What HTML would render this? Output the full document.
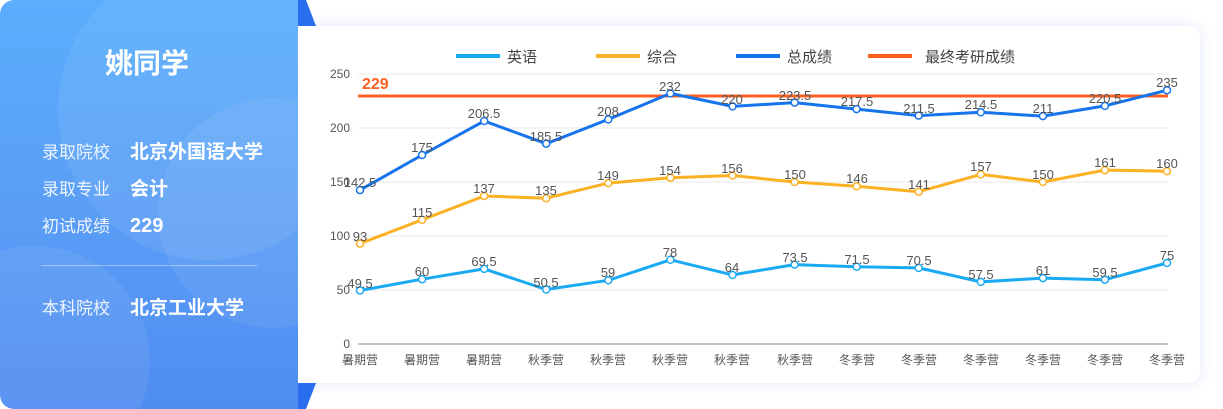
<!DOCTYPE html><html><head><meta charset="utf-8"><style>
html,body{margin:0;width:1223px;height:409px;overflow:hidden}
body{background:#fff;position:relative;font-family:"Liberation Sans","Noto Sans CJK SC",sans-serif}
.left{position:absolute;left:0;top:0;width:298px;height:409px;border-radius:14px 0 0 14px;background:linear-gradient(180deg,#5aaefc 0%,#5a9ef6 50%,#4f8cf1 100%);overflow:hidden}
.c{position:absolute;border-radius:50%;background:rgba(255,255,255,0.07)}
.t{position:absolute;color:#fff;white-space:nowrap;line-height:1}
.card{position:absolute;left:298px;top:26px;width:902px;height:357px;background:#fff;border-radius:0 12px 12px 0;box-shadow:0 0 14px rgba(90,120,230,0.18)}
</style></head><body>
<div class="card"></div>
<svg style="position:absolute;left:0;top:0" width="1223" height="409">
<polygon points="298,0 306,0 316,26 298,26" fill="#2a6ef0"/>
<polygon points="298,383 316,383 306,409 298,409" fill="#2a6ef0"/>
</svg>
<div class="left">
<div class="c" style="left:58px;top:-40px;width:300px;height:300px"></div>
<div class="c" style="left:158px;top:98px;width:230px;height:230px"></div>
<div class="c" style="left:-80px;top:246px;width:230px;height:230px"></div>
<div class="t" style="left:105px;top:50px;font-size:28px;font-weight:bold">姚同学</div>
<div class="t" style="left:42px;top:144px;font-size:17px;opacity:.9">录取院校</div>
<div class="t" style="left:130px;top:143px;font-size:19px;font-weight:bold">北京外国语大学</div>
<div class="t" style="left:42px;top:181px;font-size:17px;opacity:.9">录取专业</div>
<div class="t" style="left:130px;top:180px;font-size:19px;font-weight:bold">会计</div>
<div class="t" style="left:42px;top:218px;font-size:17px;opacity:.9">初试成绩</div>
<div class="t" style="left:130px;top:216px;font-size:20px;font-weight:bold">229</div>
<div style="position:absolute;left:41px;top:265px;width:216px;height:1px;background:rgba(255,255,255,.4)"></div>
<div class="t" style="left:42px;top:300px;font-size:17px;opacity:.9">本科院校</div>
<div class="t" style="left:130px;top:299px;font-size:19px;font-weight:bold">北京工业大学</div>
</div>
<svg style="position:absolute;left:0;top:0" width="1223" height="409" font-family="Liberation Sans, Noto Sans CJK SC, sans-serif">
<g stroke="#e8e8e8" stroke-width="1">
<line x1="358" x2="1168" y1="74" y2="74"/><line x1="358" x2="1168" y1="128" y2="128"/><line x1="358" x2="1168" y1="182" y2="182"/><line x1="358" x2="1168" y1="236" y2="236"/><line x1="358" x2="1168" y1="290" y2="290"/>
</g>
<line x1="358" x2="1168" y1="344" y2="344" stroke="#888"/>
<g font-size="12" fill="#555" text-anchor="end">
<text x="350" y="78">250</text><text x="350" y="132">200</text><text x="350" y="186">150</text><text x="350" y="240">100</text><text x="350" y="294">50</text><text x="350" y="348">0</text>
</g>
<g font-size="12" fill="#555" text-anchor="middle">
<text x="360" y="364">暑期营</text><text x="422" y="364">暑期营</text><text x="484" y="364">暑期营</text><text x="546" y="364">秋季营</text><text x="608" y="364">秋季营</text><text x="670" y="364">秋季营</text><text x="732" y="364">秋季营</text><text x="795" y="364">秋季营</text><text x="857" y="364">冬季营</text><text x="919" y="364">冬季营</text><text x="981" y="364">冬季营</text><text x="1043" y="364">冬季营</text><text x="1105" y="364">冬季营</text><text x="1167" y="364">冬季营</text>
</g>
<g font-size="15" fill="#444">
<line x1="456" x2="500" y1="56" y2="56" stroke="#1aaaf4" stroke-width="4"/><text x="507" y="62">英语</text>
<line x1="596" x2="640" y1="56" y2="56" stroke="#fbb123" stroke-width="4"/><text x="647" y="62">综合</text>
<line x1="736" x2="780" y1="56" y2="56" stroke="#1674ec" stroke-width="4"/><text x="787" y="62">总成绩</text>
<line x1="868" x2="912" y1="56" y2="56" stroke="#fe6022" stroke-width="4"/><text x="925" y="62">最终考研成绩</text>
</g>
<line x1="358" x2="1168" y1="96" y2="96" stroke="#fe6022" stroke-width="3"/>
<text x="362" y="89" font-size="16" font-weight="bold" fill="#fe6022">229</text>
<g fill="none" stroke-width="3" stroke-linejoin="round">
<polyline stroke="#1aaaf4" points="360,290.5 422.1,279.2 484.2,268.9 546.2,289.5 608.3,280.3 670.4,259.8 732.5,274.9 794.6,264.6 856.6,266.8 918.7,267.9 980.8,281.9 1042.9,278.1 1104.9,279.7 1167,263"/>
<polyline stroke="#fbb123" points="360,243.6 422.1,219.8 484.2,196 546.2,198.2 608.3,183.1 670.4,177.7 732.5,175.5 794.6,182 856.6,186.3 918.7,191.7 980.8,174.4 1042.9,182 1104.9,170.1 1167,171.2"/>
<polyline stroke="#1674ec" points="360,190.1 422.1,155 484.2,121 546.2,143.7 608.3,119.4 670.4,93.4 732.5,106.4 794.6,102.6 856.6,109.1 918.7,115.6 980.8,112.3 1042.9,116.1 1104.9,105.9 1167,90.2"/>
</g>
<g fill="#fff" stroke-width="1.5">
<g stroke="#1aaaf4"><circle cx="360" cy="290.5" r="3.5"/><circle cx="422.1" cy="279.2" r="3.5"/><circle cx="484.2" cy="268.9" r="3.5"/><circle cx="546.2" cy="289.5" r="3.5"/><circle cx="608.3" cy="280.3" r="3.5"/><circle cx="670.4" cy="259.8" r="3.5"/><circle cx="732.5" cy="274.9" r="3.5"/><circle cx="794.6" cy="264.6" r="3.5"/><circle cx="856.6" cy="266.8" r="3.5"/><circle cx="918.7" cy="267.9" r="3.5"/><circle cx="980.8" cy="281.9" r="3.5"/><circle cx="1042.9" cy="278.1" r="3.5"/><circle cx="1104.9" cy="279.7" r="3.5"/><circle cx="1167" cy="263" r="3.5"/></g>
<g stroke="#fbb123"><circle cx="360" cy="243.6" r="3.5"/><circle cx="422.1" cy="219.8" r="3.5"/><circle cx="484.2" cy="196" r="3.5"/><circle cx="546.2" cy="198.2" r="3.5"/><circle cx="608.3" cy="183.1" r="3.5"/><circle cx="670.4" cy="177.7" r="3.5"/><circle cx="732.5" cy="175.5" r="3.5"/><circle cx="794.6" cy="182" r="3.5"/><circle cx="856.6" cy="186.3" r="3.5"/><circle cx="918.7" cy="191.7" r="3.5"/><circle cx="980.8" cy="174.4" r="3.5"/><circle cx="1042.9" cy="182" r="3.5"/><circle cx="1104.9" cy="170.1" r="3.5"/><circle cx="1167" cy="171.2" r="3.5"/></g>
<g stroke="#1674ec"><circle cx="360" cy="190.1" r="3.5"/><circle cx="422.1" cy="155" r="3.5"/><circle cx="484.2" cy="121" r="3.5"/><circle cx="546.2" cy="143.7" r="3.5"/><circle cx="608.3" cy="119.4" r="3.5"/><circle cx="670.4" cy="93.4" r="3.5"/><circle cx="732.5" cy="106.4" r="3.5"/><circle cx="794.6" cy="102.6" r="3.5"/><circle cx="856.6" cy="109.1" r="3.5"/><circle cx="918.7" cy="115.6" r="3.5"/><circle cx="980.8" cy="112.3" r="3.5"/><circle cx="1042.9" cy="116.1" r="3.5"/><circle cx="1104.9" cy="105.9" r="3.5"/><circle cx="1167" cy="90.2" r="3.5"/></g>
</g>
<g font-size="13" fill="#555" text-anchor="middle">
<text x="360" y="288">49.5</text><text x="422" y="276">60</text><text x="484" y="266">69.5</text><text x="546" y="287">50.5</text><text x="608" y="277">59</text><text x="670" y="257">78</text><text x="732" y="272">64</text><text x="795" y="262">73.5</text><text x="857" y="264">71.5</text><text x="919" y="265">70.5</text><text x="981" y="279">57.5</text><text x="1043" y="275">61</text><text x="1105" y="277">59.5</text><text x="1167" y="260">75</text>
<text x="360" y="241">93</text><text x="422" y="217">115</text><text x="484" y="193">137</text><text x="546" y="195">135</text><text x="608" y="180">149</text><text x="670" y="175">154</text><text x="732" y="173">156</text><text x="795" y="179">150</text><text x="857" y="183">146</text><text x="919" y="189">141</text><text x="981" y="171">157</text><text x="1043" y="179">150</text><text x="1105" y="167">161</text><text x="1167" y="168">160</text>
<text x="360" y="187">142.5</text><text x="422" y="152">175</text><text x="484" y="118">206.5</text><text x="546" y="141">185.5</text><text x="608" y="116">208</text><text x="670" y="91">232</text><text x="732" y="104">220</text><text x="795" y="100">223.5</text><text x="857" y="106">217.5</text><text x="919" y="113">211.5</text><text x="981" y="109">214.5</text><text x="1043" y="113">211</text><text x="1105" y="103">220.5</text><text x="1167" y="87">235</text>
</g>
</svg>
</body></html>
